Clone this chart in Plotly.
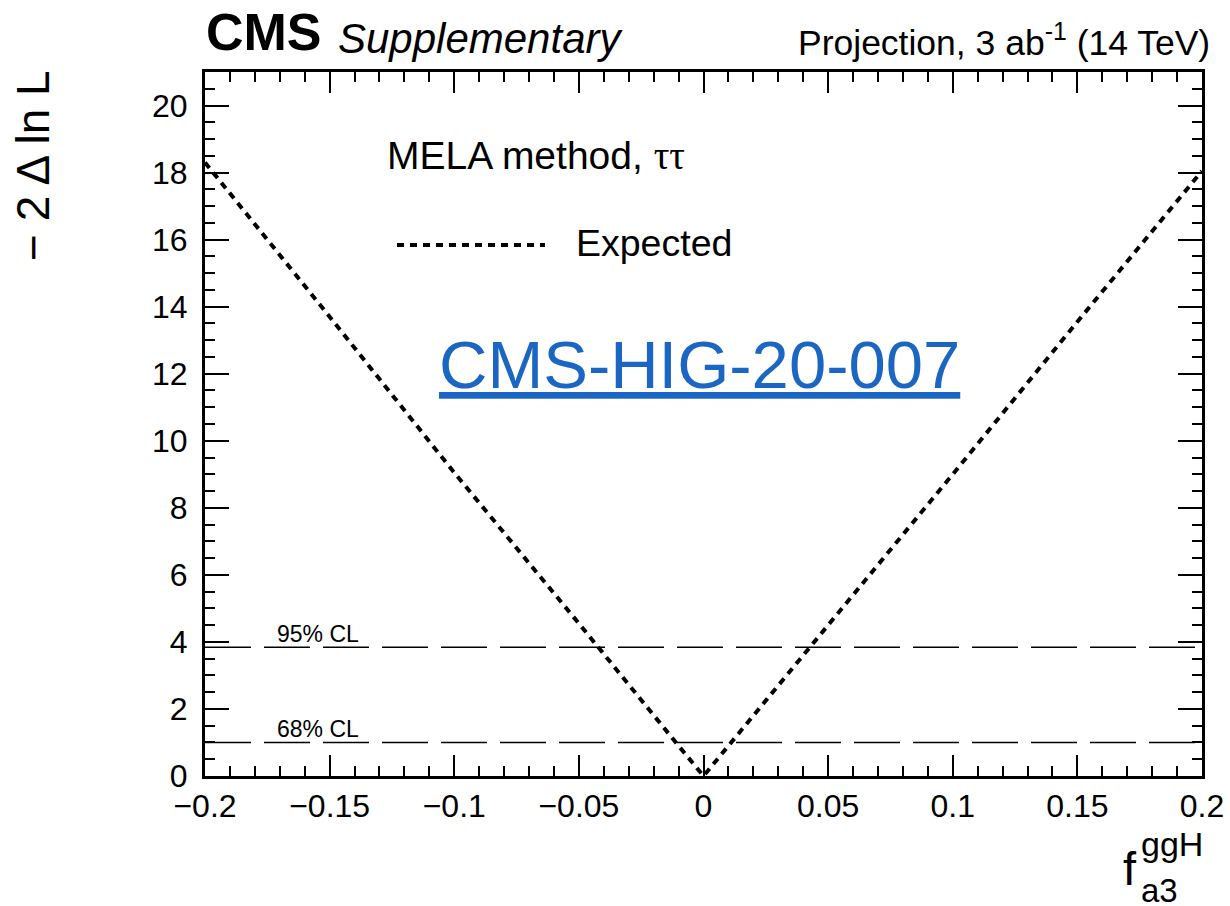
import plotly.graph_objects as go

# Expected -2 Delta lnL scan vs f_a3^ggH
fa3 = [-0.20, -0.15, -0.10, -0.05, -0.01, 0.0, 0.01, 0.05, 0.10, 0.15, 0.20]
nll = [18.3, 13.7, 9.05, 4.55, 0.9, 0.0, 0.9, 4.5, 9.0, 13.55, 18.05]

cl_levels = [1.0, 3.84]
cl_labels = ["68% CL", "95% CL"]
x_range = [-0.2, 0.2]
y_range = [0, 21]

FONT = "Liberation Sans"

fig = go.Figure()

for lvl in cl_levels:
    fig.add_trace(go.Scatter(
        x=x_range, y=[lvl, lvl], mode="lines",
        line=dict(color="black", width=1.5, dash="46px,13px"),
        showlegend=False, hoverinfo="skip"))

fig.add_trace(go.Scatter(
    x=fa3, y=nll, mode="lines",
    line=dict(color="black", width=4, dash="7px,6px"),
    showlegend=False))

L, R, T, B = 205, 28, 72, 130
W, H = 1230, 906
pw, ph = W - L - R, H - T - B


def px(xp):
    return (xp - L) / pw


def py(yp):
    return (H - B - yp) / ph


annotations = []
# CL labels
for lvl, lab in zip(cl_levels, cl_labels):
    annotations.append(dict(x=-0.172, y=lvl, xref="x", yref="y", text=lab,
                            showarrow=False, xanchor="left", yanchor="bottom",
                            yshift=-2, font=dict(family=FONT, size=23, color="black")))

annotations += [
    dict(x=px(204), y=py(63), xref="paper", yref="paper", text="<b>CMS</b>",
         showarrow=False, xanchor="left", yanchor="bottom",
         font=dict(family=FONT, size=52, color="black")),
    dict(x=px(336), y=py(64), xref="paper", yref="paper", text="<i>Supplementary</i>",
         showarrow=False, xanchor="left", yanchor="bottom",
         font=dict(family=FONT, size=42, color="black")),
    dict(x=px(1212), y=py(65), xref="paper", yref="paper",
         text="Projection, 3 ab<sup>-1</sup> (14 TeV)",
         showarrow=False, xanchor="right", yanchor="bottom",
         font=dict(family=FONT, size=35.5, color="black")),
    dict(x=px(385), y=py(155), xref="paper", yref="paper",
         text="MELA method, <span style='font-family:Liberation Serif'>ττ</span>",
         showarrow=False, xanchor="left", yanchor="middle",
         font=dict(family=FONT, size=39, color="black")),
    dict(x=px(574), y=py(243), xref="paper", yref="paper", text="Expected",
         showarrow=False, xanchor="left", yanchor="middle",
         font=dict(family=FONT, size=37.5, color="black")),
    dict(x=px(699), y=py(364), xref="paper", yref="paper", text="<u>CMS-HIG-20-007</u>",
         showarrow=False, xanchor="center", yanchor="middle",
         font=dict(family=FONT, size=67, color="#1a66c2")),
    dict(x=px(33), y=py(166), xref="paper", yref="paper", text="− 2 Δ ln L",
         showarrow=False, textangle=-90, xanchor="center", yanchor="middle",
         font=dict(family=FONT, size=46, color="black")),
    dict(x=px(1121), y=py(897), xref="paper", yref="paper", text="f",
         showarrow=False, xanchor="left", yanchor="bottom",
         font=dict(family=FONT, size=47, color="black")),
    dict(x=px(1139), y=py(865), xref="paper", yref="paper", text="ggH",
         showarrow=False, xanchor="left", yanchor="bottom",
         font=dict(family=FONT, size=34, color="black")),
    dict(x=px(1139), y=py(911), xref="paper", yref="paper", text="a3",
         showarrow=False, xanchor="left", yanchor="bottom",
         font=dict(family=FONT, size=33, color="black")),
]

shapes = [dict(type="line", xref="paper", yref="paper",
               x0=px(397), x1=px(545), y0=py(245), y1=py(245),
               line=dict(color="black", width=4, dash="7px,6px"))]

fig.update_layout(
    width=W, height=H,
    margin=dict(l=L, r=R, t=T, b=B, autoexpand=False),
    paper_bgcolor="white", plot_bgcolor="white",
    showlegend=False,
    annotations=annotations, shapes=shapes,
    font=dict(family=FONT, size=32, color="black"),
    xaxis=dict(range=x_range, dtick=0.05, tick0=0, showgrid=False, zeroline=False,
               showline=True, linecolor="black", linewidth=3, mirror="ticks",
               ticks="inside", ticklen=21, tickwidth=1.5, tickcolor="black",
               minor=dict(dtick=0.01, ticks="inside", ticklen=10, tickwidth=1.5,
                          tickcolor="black", showgrid=False),
               tickfont=dict(family=FONT, size=32)),
    yaxis=dict(range=y_range, dtick=2, tick0=0, showgrid=False, zeroline=False,
               showline=True, linecolor="black", linewidth=3, mirror="ticks",
               ticks="inside", ticklen=24, tickwidth=1.5, tickcolor="black",
               minor=dict(dtick=0.5, ticks="inside", ticklen=10, tickwidth=1.5,
                          tickcolor="black", showgrid=False),
               tickfont=dict(family=FONT, size=32), ticklabelstandoff=8),
)

fig.write_html("out.html")
